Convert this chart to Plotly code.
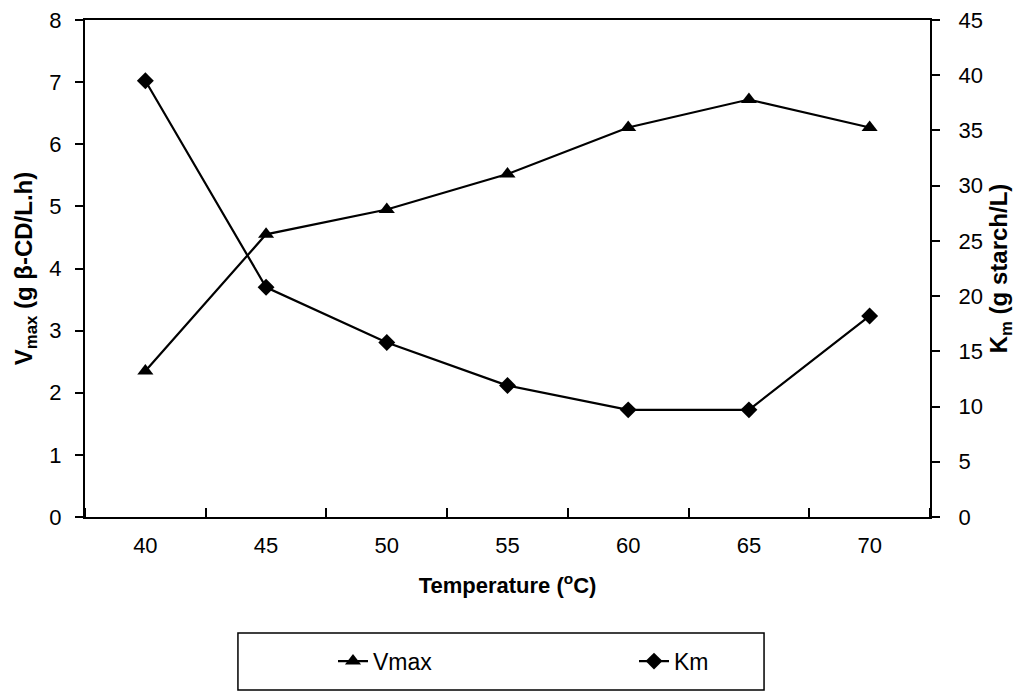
import plotly.graph_objects as go

# Kinetic parameters of the enzyme versus reaction temperature
temperature = [40, 45, 50, 55, 60, 65, 70]
vmax = [2.35, 4.55, 4.95, 5.52, 6.27, 6.72, 6.27]   # g β-CD/L.h
km = [39.5, 20.8, 15.8, 11.9, 9.7, 9.7, 18.2]       # g starch/L

FONT = "Liberation Sans, Arial, sans-serif"
BLACK = "#000000"

fig = go.Figure()

fig.add_trace(go.Scatter(
    x=temperature, y=vmax, name="Vmax", mode="lines+markers",
    line=dict(color=BLACK, width=2.2),
    marker=dict(symbol="triangle-up", size=14, color=BLACK),
    yaxis="y",
))
fig.add_trace(go.Scatter(
    x=temperature, y=km, name="Km", mode="lines+markers",
    line=dict(color=BLACK, width=2.2),
    marker=dict(symbol="diamond", size=13, color=BLACK),
    yaxis="y2",
))

tick_font = dict(family=FONT, size=22, color=BLACK)
x_title_font = dict(family=FONT, size=22, color=BLACK, weight="bold")
y_title_font = dict(family=FONT, size=24, color=BLACK, weight="bold")

fig.update_layout(
    width=1027, height=693,
    margin=dict(l=85, r=97, t=20, b=176, autoexpand=False),
    paper_bgcolor="white", plot_bgcolor="white",
    font=dict(family=FONT, color=BLACK),
    xaxis=dict(
        range=[37.5, 72.5], tickmode="array", tickvals=temperature,
        ticks="", showgrid=False, zeroline=False,
        showline=True, linecolor=BLACK, linewidth=2, mirror=True,
        tickfont=tick_font, ticklabelstandoff=8,
        minor=dict(tick0=37.5, dtick=5, ticks="inside", ticklen=9,
                   tickcolor=BLACK, tickwidth=1.5, showgrid=False),
        title=dict(text="Temperature (<sup>o</sup>C)", font=x_title_font, standoff=20),
    ),
    yaxis=dict(
        range=[0, 8], dtick=1, ticks="outside", ticklen=8, tickwidth=1.5,
        tickcolor=BLACK, showgrid=False, zeroline=False,
        showline=True, linecolor=BLACK, linewidth=2,
        tickfont=tick_font, ticklabelstandoff=9,
        title=dict(text="V<sub>max</sub> (g β-CD/L.h)", font=y_title_font, standoff=10),
    ),
    yaxis2=dict(
        range=[0, 45], dtick=5, overlaying="y", side="right",
        ticks="outside", ticklen=8, tickwidth=1.5, tickcolor=BLACK,
        showgrid=False, zeroline=False,
        showline=True, linecolor=BLACK, linewidth=2,
        tickfont=tick_font, ticklabelstandoff=14,
        title=dict(text="K<sub>m</sub> (g starch/L)", font=y_title_font, standoff=8),
    ),
    showlegend=True,
    legend=dict(
        orientation="h", x=0.2935, xanchor="left", y=-0.29, yanchor="middle",
        font=dict(family=FONT, size=23, color=BLACK),
        entrywidth=256, entrywidthmode="pixels",
        bgcolor="rgba(0,0,0,0)", borderwidth=0,
    ),
    shapes=[dict(
        type="rect", xref="paper", yref="paper",
        x0=0.181, x1=0.8036, y0=-0.348, y1=-0.2334,
        line=dict(color=BLACK, width=1.5), fillcolor="rgba(0,0,0,0)",
    )],
)

fig.write_html("out.html")
